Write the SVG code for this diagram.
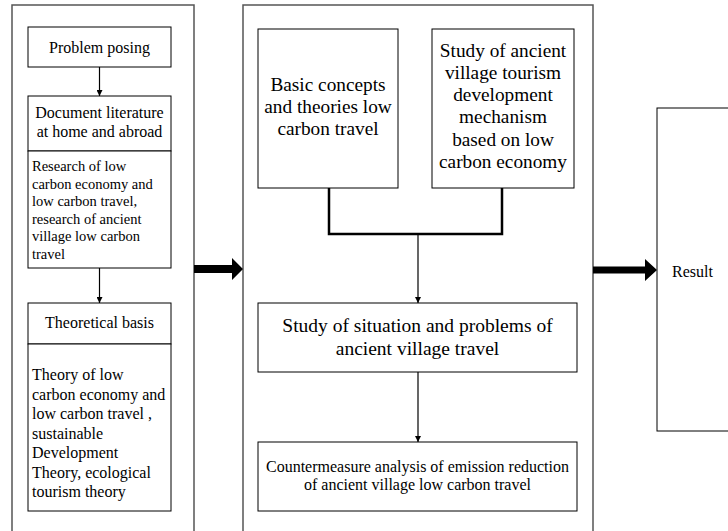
<svg xmlns="http://www.w3.org/2000/svg" width="728" height="531" viewBox="0 0 728 531" font-family="'Liberation Serif', serif">
<style>
text{font-family:'Liberation Serif',serif;fill:#000}
.outer{fill:#fff;stroke:#555;stroke-width:1.5}
.box{fill:#fff;stroke:#000;stroke-width:1}
.c{text-anchor:middle}
.f16{font-size:16px}
.f145{font-size:14.5px}
.f19{font-size:19.3px}
.f195{font-size:19.5px}
.ln{stroke:#000;stroke-width:1.2;fill:none}
.thick{stroke:#000;stroke-width:2.5;fill:none}
</style>
<defs>
<marker id="ah" viewBox="0 0 10 10" refX="10" refY="5" markerWidth="8" markerHeight="6" markerUnits="userSpaceOnUse" orient="auto">
<path d="M0,0 L10,5 L0,10 z" fill="#000"/>
</marker>
</defs>
<rect width="728" height="531" fill="#fff"/>
<g id="left-panel">
<rect class="outer" x="12" y="5" width="182" height="540"/>
</g>
<g id="middle-panel">
<rect class="outer" x="243" y="5" width="350" height="540"/>
</g>
<g id="problem-posing">
<rect class="box" x="28" y="27" width="143" height="40"/>
<text class="c f16" x="99.5" y="53">Problem posing</text>
</g>
<g id="document-literature">
<rect class="box" x="28" y="96" width="143" height="55"/>
<text class="c f16" x="99.5" y="118">Document literature</text>
<text class="c f16" x="99.5" y="137">at home and abroad</text>
</g>
<g id="research">
<rect class="box" x="28" y="151" width="143" height="117"/>
<text class="f145" x="32" y="171">Research of low</text>
<text class="f145" x="32" y="188.5">carbon economy and</text>
<text class="f145" x="32" y="206">low carbon travel,</text>
<text class="f145" x="32" y="223.5">research of ancient</text>
<text class="f145" x="32" y="241">village low carbon</text>
<text class="f145" x="32" y="258.5">travel</text>
</g>
<g id="theoretical-basis">
<rect class="box" x="28" y="303" width="143" height="41"/>
<text class="c f16" x="99.5" y="328">Theoretical basis</text>
</g>
<g id="theory">
<rect class="box" x="28" y="344" width="143" height="167"/>
<text class="f16" x="32" y="380">Theory of low</text>
<text class="f16" x="32" y="399.5">carbon economy and</text>
<text class="f16" x="32" y="419">low carbon travel ,</text>
<text class="f16" x="32" y="438.5">sustainable</text>
<text class="f16" x="32" y="458">Development</text>
<text class="f16" x="32" y="477.5">Theory, ecological</text>
<text class="f16" x="32" y="497">tourism theory</text>
</g>
<g id="basic-concepts">
<rect class="box" x="258" y="29" width="140" height="159"/>
<text class="c f19" x="328" y="91">Basic concepts</text>
<text class="c f19" x="328" y="113">and theories low</text>
<text class="c f19" x="328" y="135">carbon travel</text>
</g>
<g id="study-mechanism">
<rect class="box" x="432" y="29" width="142" height="159"/>
<text class="c f19" x="503" y="57">Study of ancient</text>
<text class="c f19" x="503" y="79">village tourism</text>
<text class="c f19" x="503" y="101">development</text>
<text class="c f19" x="503" y="123">mechanism</text>
<text class="c f19" x="503" y="145.5">based on low</text>
<text class="c f19" x="503" y="168">carbon economy</text>
</g>
<g id="situation">
<rect class="box" x="258" y="303" width="319" height="69"/>
<text class="c f195" x="417.5" y="332">Study of situation and problems of</text>
<text class="c f195" x="417.5" y="355">ancient village travel</text>
</g>
<g id="countermeasure">
<rect class="box" x="258" y="442" width="319" height="69"/>
<text class="c f16" x="417.5" y="471.5">Countermeasure analysis of emission reduction</text>
<text class="c f16" x="417.5" y="490">of ancient village low carbon travel</text>
</g>
<g id="result">
<rect class="box" x="657" y="108" width="80" height="323"/>
<text class="f16" x="672" y="277">Result</text>
</g>
<g id="connectors">
<line class="ln" x1="99.5" y1="67" x2="99.5" y2="96" marker-end="url(#ah)"/>
<line class="ln" x1="99.5" y1="268" x2="99.5" y2="303" marker-end="url(#ah)"/>
<polyline class="thick" points="329,188 329,234 502,234 502,188"/>
<line class="ln" x1="418" y1="234" x2="418" y2="303" marker-end="url(#ah)"/>
<line class="ln" x1="418" y1="372" x2="418" y2="442" marker-end="url(#ah)"/>
<polygon points="194,265 232,265 232,258 243,269 232,280 232,273 194,273" fill="#000"/>
<polygon points="593,266.5 645,266.5 645,259 657,270 645,281 645,273.5 593,273.5" fill="#000"/>
</g>
</svg>
